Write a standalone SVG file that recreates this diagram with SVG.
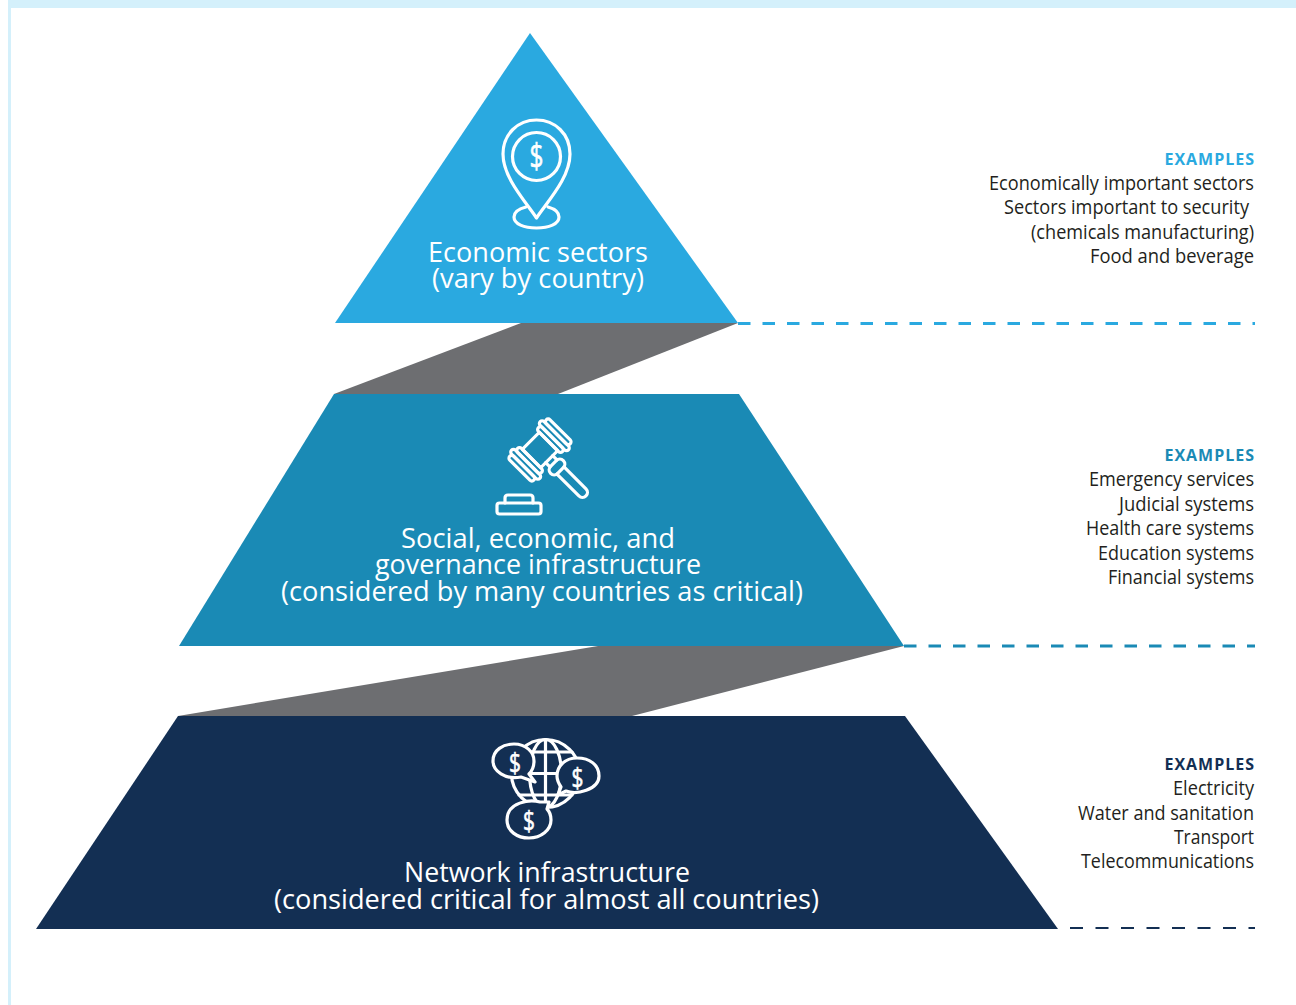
<svg xmlns="http://www.w3.org/2000/svg" width="1296" height="1005" viewBox="0 0 1296 1005">
<style>
text{font-family:"Open Sans","Noto Sans","Liberation Sans",sans-serif}
.t{fill:#fff;font-size:27px}
.e{fill:#231f20;font-size:19.5px}
.h{font-size:16px;font-weight:700}
.i{fill:none;stroke:#fff;stroke-width:3.2;stroke-linejoin:round;stroke-linecap:round}
.d{fill:#fff;stroke:#fff;stroke-width:.6}
.l{fill:none;stroke-width:3}
</style>
<rect width="1296" height="1005" fill="#fff"/>
<rect x="8" y="0" width="1288" height="8" fill="#d4f0fb"/>
<rect x="8" y="8" width="3" height="997" fill="#d4f0fb"/>
<g id="connectors">
<polygon points="521,323 738,323 558,394 334,394" fill="#6d6e71"/>
<polygon points="598,646 904,646 632,716 178,716" fill="#6d6e71"/>
<line class="l" x1="738" y1="323.5" x2="1255" y2="323.5" stroke="#2aa9e0" stroke-dasharray="12.5 12"/>
<line class="l" x1="904" y1="646" x2="1255" y2="646" stroke="#1a8ab5" stroke-dasharray="12.5 12"/>
<line x1="1070" y1="928" x2="1255" y2="928" fill="none" stroke="#132f53" stroke-width="2" stroke-dasharray="13 12.5"/>
</g>
<g id="tier-top">
<polygon points="530,33 738,323 335,323" fill="#2aa9e0"/>
<path class="i" d="M536.500,218 C526,202 503,178 503,154 C503,134 518,120 536.500,120 C555,120 570,134 570,154 C570,178 547,202 536.500,218 Z"/>
<circle class="i" cx="536.500" cy="156.500" r="24"/>
<path class="i" d="M526,207 C518,209 514,213 514,217 C514,224 524,228 536.500,228 C549,228 559,224 559,217 C559,213 555,209 548,207"/>
<text class="d" x="529.500" y="168" font-size="34" textLength="14" lengthAdjust="spacingAndGlyphs">$</text>
<text class="t" x="428" y="261.500" textLength="220" lengthAdjust="spacingAndGlyphs">Economic sectors</text>
<text class="t" x="432" y="288" textLength="212" lengthAdjust="spacingAndGlyphs">(vary by country)</text>
</g>
<g id="tier-middle">
<polygon points="334,394 739,394 904,646 179,646" fill="#1a8ab5"/>
<g transform="translate(540,450) rotate(-45)">
<rect class="i" x="-12" y="-13" width="24" height="26"/>
<rect class="i" x="-28.500" y="-17" width="5.500" height="34" rx="2.750"/>
<rect class="i" x="-23" y="-20" width="5.500" height="40" rx="2.750"/>
<rect class="i" x="-17.500" y="-17" width="5.500" height="34" rx="2.750"/>
<rect class="i" x="12" y="-17" width="5.500" height="34" rx="2.750"/>
<rect class="i" x="17.500" y="-20" width="5.500" height="40" rx="2.750"/>
<rect class="i" x="23" y="-17" width="5.500" height="34" rx="2.750"/>
<path class="i" d="M-5,13 V19 M5,13 V19"/>
<rect class="i" x="-9" y="19" width="18" height="10" rx="5"/>
<path class="i" d="M-5,29 V60 A5,5 0 0 0 5,60 V29"/>
</g>
<path class="i" d="M505,503 V498 Q505,495 508,495 H530 Q533,495 533,498 V503"/>
<rect class="i" x="497" y="503" width="44" height="11" rx="2.500"/>
<text class="t" x="401" y="548" textLength="274" lengthAdjust="spacingAndGlyphs">Social, economic, and</text>
<text class="t" x="375" y="574" textLength="326" lengthAdjust="spacingAndGlyphs">governance infrastructure</text>
<text class="t" x="281" y="601" textLength="522" lengthAdjust="spacingAndGlyphs">(considered by many countries as critical)</text>
</g>
<g id="tier-bottom">
<polygon points="178,716 905,716 1058,929 36,929" fill="#132f53"/>
<g class="i">
<circle cx="545.500" cy="773.500" r="34"/>
<ellipse cx="545.500" cy="773.500" rx="16" ry="34"/>
<path d="M545.500,739.500 V807.500 M511.500,773.500 H579.500 M519,752 H572 M519,795 H572"/>
</g>
<g class="i" style="fill:#132f53">
<path d="M521,777 C505,780 493,771 493,761 C493,750 503,744 514,744 C526,744 534,752 534,761 C534,767 532,771 529,774 L535,782 Z"/>
<path d="M566,791 C576,795 599,790 599,776 C599,765 590,758 577,758 C565,758 557,766 557,776 C557,780 559,784 561,787 L558,795 Z"/>
<path d="M540,802 C530,799 507,802 507,820 C507,831 517,838 529,838 C541,838 551,830 551,820 C551,815 549,811 547,809 L549,802 Z"/>
</g>
<text class="d" x="509" y="773" font-size="28" textLength="12" lengthAdjust="spacingAndGlyphs">$</text>
<text class="d" x="571.500" y="788" font-size="28" textLength="12" lengthAdjust="spacingAndGlyphs">$</text>
<text class="d" x="523" y="831" font-size="28" textLength="12" lengthAdjust="spacingAndGlyphs">$</text>
<text class="t" x="404" y="882" textLength="286" lengthAdjust="spacingAndGlyphs">Network infrastructure</text>
<text class="t" x="274" y="908.500" textLength="545" lengthAdjust="spacingAndGlyphs">(considered critical for almost all countries)</text>
</g>
<g id="examples-top">
<text class="h" x="1164.500" y="165" fill="#2aa9e0" textLength="89.500" lengthAdjust="spacing">EXAMPLES</text>
<text class="e" x="989" y="190" textLength="265" lengthAdjust="spacingAndGlyphs">Economically important sectors</text>
<text class="e" x="1004" y="214" textLength="245" lengthAdjust="spacingAndGlyphs">Sectors important to security</text>
<text class="e" x="1031" y="238.500" textLength="223" lengthAdjust="spacingAndGlyphs">(chemicals manufacturing)</text>
<text class="e" x="1090" y="263" textLength="164" lengthAdjust="spacingAndGlyphs">Food and beverage</text>
</g>
<g id="examples-middle">
<text class="h" x="1164.500" y="461" fill="#1a8ab5" textLength="89.500" lengthAdjust="spacing">EXAMPLES</text>
<text class="e" x="1089" y="486" textLength="165" lengthAdjust="spacingAndGlyphs">Emergency services</text>
<text class="e" x="1119" y="510.500" textLength="135" lengthAdjust="spacingAndGlyphs">Judicial systems</text>
<text class="e" x="1086" y="535" textLength="168" lengthAdjust="spacingAndGlyphs">Health care systems</text>
<text class="e" x="1098" y="559.500" textLength="156" lengthAdjust="spacingAndGlyphs">Education systems</text>
<text class="e" x="1108" y="584" textLength="146" lengthAdjust="spacingAndGlyphs">Financial systems</text>
</g>
<g id="examples-bottom">
<text class="h" x="1164.500" y="770" fill="#132f53" textLength="89.500" lengthAdjust="spacing">EXAMPLES</text>
<text class="e" x="1173" y="795" textLength="81" lengthAdjust="spacingAndGlyphs">Electricity</text>
<text class="e" x="1078" y="819.500" textLength="176" lengthAdjust="spacingAndGlyphs">Water and sanitation</text>
<text class="e" x="1174" y="844" textLength="80" lengthAdjust="spacingAndGlyphs">Transport</text>
<text class="e" x="1081" y="868" textLength="173" lengthAdjust="spacingAndGlyphs">Telecommunications</text>
</g>
</svg>
